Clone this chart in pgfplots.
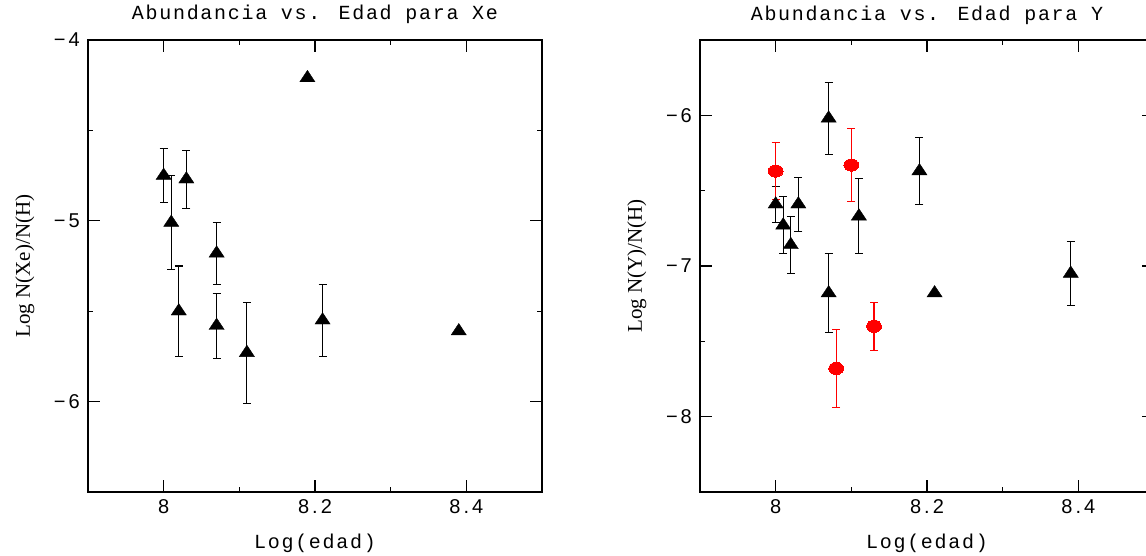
\documentclass[border=0pt]{standalone}
\usepackage{fontspec}
\usepackage{pgfplots}
\usepackage{pgfplotstable}
\pgfplotsset{compat=1.18}
\newfontfamily\titlefont[LetterSpace=8.5]{Liberation Mono}
\newfontfamily\tickfont[LetterSpace=15]{Liberation Sans}
\newfontfamily\labelfont{Liberation Serif}

\pgfplotstableread{
x y e
8.00 -4.75 0.15
8.01 -5.01 0.26
8.02 -5.50 0.25
8.03 -4.77 0.16
8.07 -5.18 0.17
8.07 -5.58 0.18
8.11 -5.73 0.28
8.21 -5.55 0.20
}\xeerr
\pgfplotstableread{
x y
8.19 -4.21
8.39 -5.61
}\xenoerr
\pgfplotstableread{
x y e
8.00 -6.59 0.12
8.01 -6.73 0.19
8.02 -6.86 0.19
8.03 -6.59 0.18
8.07 -6.02 0.24
8.07 -7.18 0.26
8.11 -6.67 0.25
8.19 -6.37 0.22
8.39 -7.05 0.21
}\yerrblack
\pgfplotstableread{
x y
8.21 -7.18
}\ynoerr
\pgfplotstableread{
x y e
8.00 -6.37 0.19
8.08 -7.68 0.26
8.10 -6.33 0.24
8.13 -7.40 0.16
}\yerrred

\pgfplotsset{
  panel/.style={
    scale only axis, width=454pt, height=452pt,
    xmin=7.9, xmax=8.5,
    axis line style={line width=1.3pt},
    every tick/.style={black, line width=1.1pt},
    major tick length=12pt, minor tick length=5pt,
    tick align=inside,
    xtick={8,8.2,8.4}, xticklabels={8,8.2,8.4}, minor xtick={8.1,8.3},
    ticklabel style={font=\tickfont\fontsize{20}{24}\selectfont},
    xticklabel style={anchor=north, inner sep=0pt, yshift=-7pt},
    yticklabel style={anchor=east, inner sep=0pt, xshift=-8pt},
    title style={font=\titlefont\fontsize{20}{24}\selectfont, at={(axis description cs:0.5,1)}, anchor=base, yshift=14pt, inner sep=0pt},
    xlabel style={font=\titlefont\fontsize{20}{24}\selectfont, at={(axis description cs:0.5,0)}, anchor=base, yshift=-56pt, inner sep=0pt},
    ylabel style={font=\labelfont\fontsize{21}{24}\selectfont, at={(axis description cs:-0.128,0.5)}, anchor=base, rotate=0, inner sep=0pt},
    xlabel={Log(edad)},
  },
  tri/.style={only marks, mark=triangle*, mark size=7.6pt, mark options={xscale=1.15, fill=black, draw=none}},
  redc/.style={only marks, color=red, mark=*, mark size=6.6pt, mark options={xscale=1.12, yscale=0.92, fill=red, draw=red, line width=0pt}},
  ebar/.style={error bars/.cd, y dir=both, y explicit,
    error mark=-,
    error mark options={rotate=90, draw=#1, fill=none, xscale=1, yscale=1, mark size=4pt, line width=1.1pt},
    error bar style={draw=#1, line width=1.1pt}},
}

\begin{document}
\begin{tikzpicture}
\begin{axis}[panel, at={(88pt,63pt)}, anchor=south west,
  ymin=-6.5, ymax=-4,
  ytick={-6,-5,-4}, yticklabels={−6,−5,−4}, minor ytick={-5.5,-4.5},
  title={Abundancia vs. Edad para Xe},
  ylabel={Log N(Xe)/N(H)}]
\addplot[tri, ebar=black] table[x=x, y=y, y error=e] {\xeerr};
\addplot[tri] table[x=x, y=y] {\xenoerr};
\end{axis}
\begin{axis}[panel, at={(700pt,63pt)}, anchor=south west,
  ymin=-8.5, ymax=-5.5,
  ytick={-8,-7,-6}, yticklabels={−8,−7,−6}, minor ytick={-7.5,-6.5},
  title={Abundancia vs. Edad para Y},
  ylabel={Log N(Y)/N(H)}]
\addplot[tri, ebar=black] table[x=x, y=y, y error=e] {\yerrblack};
\addplot[tri] table[x=x, y=y] {\ynoerr};
\addplot[redc, ebar=red] table[x=x, y=y, y error=e] {\yerrred};
\end{axis}
\pgfresetboundingbox
\path[use as bounding box] (0,0) rectangle (1146pt,555pt);
\end{tikzpicture}
\end{document}
